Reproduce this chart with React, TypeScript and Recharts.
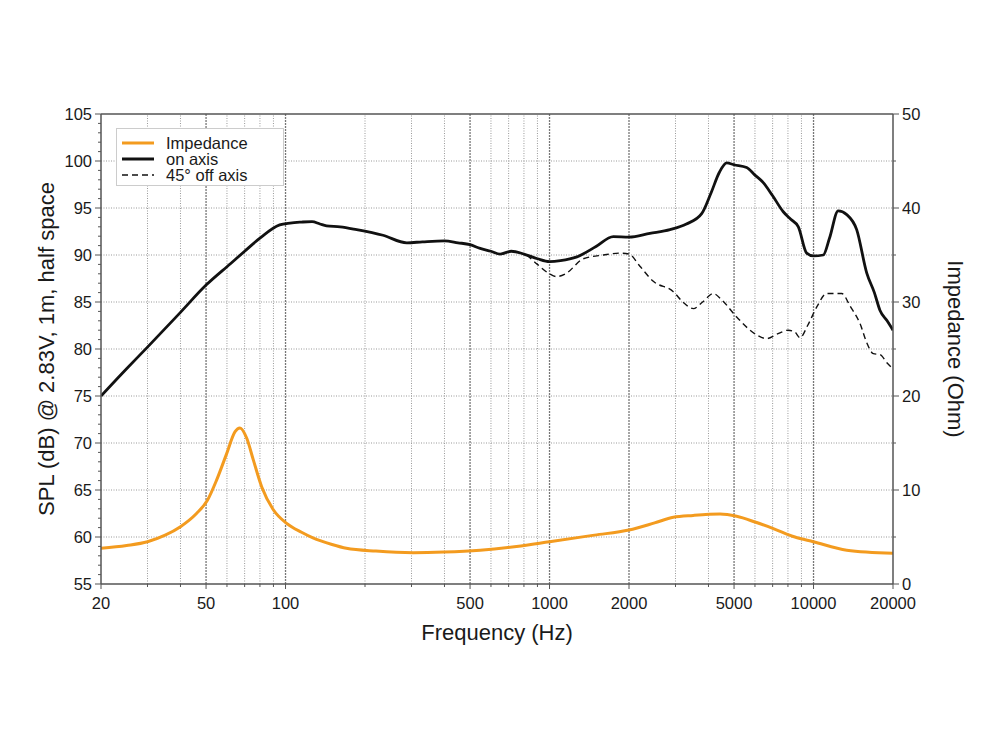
import React from "react";
import {
  ComposedChart,
  Line,
  XAxis,
  YAxis,
  ReferenceLine,
  Legend,
  Label,
} from "recharts";

// on-axis SPL response (Hz / dB)
const ON_AXIS_FREQ = [
  20, 25, 30, 40, 50, 62, 70, 80, 95, 104, 115, 126, 135, 143, 161, 186, 234,
  288, 330, 400, 450, 500, 546, 600, 650, 716, 800, 900, 1000, 1100, 1270, 1500,
  1744, 2000, 2400, 2860, 3300, 3770, 4090, 4400, 4690, 5000, 5580, 6000, 6450,
  7000, 7680, 8200, 8760, 9420, 10000, 10890, 11500, 12400, 13360, 14570, 15900,
  17000, 17860, 19000, 20000,
];
const ON_AXIS_SPL = [
  75.0, 77.9, 80.2, 83.9, 86.8, 89.1, 90.4, 91.8, 93.2, 93.4, 93.5, 93.55, 93.3,
  93.1, 93.0, 92.7, 92.1, 91.3, 91.4, 91.5, 91.3, 91.1, 90.7, 90.4, 90.1, 90.4,
  90.1, 89.6, 89.3, 89.4, 89.8, 90.9, 91.95, 91.9, 92.3, 92.7, 93.3, 94.4, 96.6,
  98.8, 99.8, 99.6, 99.3, 98.5, 97.7, 96.3, 94.6, 93.8, 93.0, 90.2, 89.9, 90.0,
  91.8, 94.7, 94.3, 92.7, 88.1, 86.0, 84.1, 83.0, 82.0,
];

// 45 degree off-axis response, splits from on-axis around 800 Hz
const OFF_AXIS_FREQ = [
  820, 900, 1000, 1064, 1150, 1343, 1600, 1849, 2000, 2200, 2472, 2944, 3200,
  3505, 3800, 4170, 4500, 5115, 6090, 6650, 7300, 8020, 8500, 8890, 9500, 10300,
  11220, 12790, 13800, 15000, 16000, 16840, 17860, 19000, 20000,
];
const OFF_AXIS_SPL = [
  90.0, 89.0, 88.0, 87.7, 88.0, 89.6, 90.0, 90.2, 90.1, 88.8, 87.2, 86.1, 85.0,
  84.3, 85.0, 85.9, 85.2, 83.4, 81.5, 81.1, 81.6, 82.0, 81.8, 81.2, 82.5, 84.5,
  85.9, 85.9, 84.5, 82.7, 80.5, 79.5, 79.4, 78.5, 77.9,
];

// impedance magnitude (Hz / Ohm)
const IMP_FREQ = [
  20, 25, 30, 35, 40, 46, 50.6, 54.9, 59.9, 64.4, 67.2, 71.3, 75.5, 81.2, 89.9,
  101, 115, 127, 150, 170, 220, 305, 400, 546, 750, 1000, 1480, 2000, 2500,
  2944, 3500, 4425, 5115, 6000, 7045, 8500, 9980, 13360, 20000,
];
const IMP_OHM = [
  3.8, 4.1, 4.5, 5.2, 6.1, 7.5, 8.9, 11.1, 13.9, 16.2, 16.6, 15.5, 13.2, 10.35,
  7.9, 6.45, 5.5, 4.9, 4.2, 3.8, 3.5, 3.33, 3.4, 3.6, 4.0, 4.5, 5.2, 5.74, 6.5,
  7.1, 7.3, 7.45, 7.2, 6.6, 5.9, 5.0, 4.5, 3.6, 3.27,
];

const FREQ_TICKS = [
  20, 30, 40, 50, 60, 70, 80, 90, 100, 200, 300, 400, 500, 600, 700, 800, 900,
  1000, 2000, 3000, 4000, 5000, 6000, 7000, 8000, 9000, 10000, 20000,
];
const FREQ_LABELS = [20, 50, 100, 500, 1000, 2000, 5000, 10000, 20000];
const SPL_TICKS = Array.from({ length: 51 }, (_, i) => 55 + i);
const SPL_GRID = [60, 65, 70, 75, 80, 85, 90, 95, 100];
const OHM_TICKS = [0, 5, 10, 15, 20, 25, 30, 35, 40, 45, 50];

const SERIES_NAMES = ["Impedance", "on axis", "45° off axis"];

const toPoints = (xs: number[], ys: number[]) =>
  xs.map((f, i) => ({ f, v: ys[i] }));

const onAxis = toPoints(ON_AXIS_FREQ, ON_AXIS_SPL);
const offAxis = toPoints(OFF_AXIS_FREQ, OFF_AXIS_SPL);
const impedance = toPoints(IMP_FREQ, IMP_OHM);

const FONT = '"Liberation Sans", Arial, Helvetica, sans-serif';
const AXIS = "#555";
const TEXT = "#1a1a1a";
const ORANGE = "#F39B1F";

function SplTick({ x, y, payload }: any) {
  const v = payload.value;
  const major = v % 5 === 0;
  return (
    <g>
      <line x1={x - (major ? 6 : 3)} x2={x} y1={y} y2={y} stroke={AXIS} />
      {major && (
        <text
          x={x - 9}
          y={y}
          textAnchor="end"
          dominantBaseline="central"
          fontSize={16.5}
          fontFamily={FONT}
          fill={TEXT}
        >
          {v}
        </text>
      )}
    </g>
  );
}

function OhmTick({ x, y, payload }: any) {
  const v = payload.value;
  const major = v % 10 === 0;
  return (
    <g>
      <line x1={x} x2={x + (major ? 6 : 3)} y1={y} y2={y} stroke={AXIS} />
      {major && (
        <text
          x={x + 9}
          y={y}
          textAnchor="start"
          dominantBaseline="central"
          fontSize={16.5}
          fontFamily={FONT}
          fill={TEXT}
        >
          {v}
        </text>
      )}
    </g>
  );
}

function FreqTick({ x, y, payload }: any) {
  const v = payload.value;
  const labelled = FREQ_LABELS.includes(v);
  return (
    <g>
      <line x1={x} x2={x} y1={y} y2={y + (labelled ? 5 : 3)} stroke={AXIS} />
      {labelled && (
        <text
          x={x}
          y={y + 19}
          textAnchor="middle"
          dominantBaseline="central"
          fontSize={16.5}
          fontFamily={FONT}
          fill={TEXT}
        >
          {v}
        </text>
      )}
    </g>
  );
}

function LegendBox({ payload }: any) {
  const items = [...(payload || [])].sort(
    (a: any, b: any) =>
      SERIES_NAMES.indexOf(a.value) - SERIES_NAMES.indexOf(b.value)
  );
  return (
    <div
      style={{
        width: 168,
        height: 58,
        boxSizing: "border-box",
        border: "1px solid #ccc",
        background: "#fff",
        padding: "6px 0 0 5px",
        fontFamily: FONT,
        fontSize: 16.5,
        color: TEXT,
      }}
    >
      {items.map((item: any) => (
        <div
          key={item.value}
          style={{ display: "flex", alignItems: "center", height: 16 }}
        >
          <svg width={32} height={4} style={{ marginRight: 12 }}>
            <line
              x1={0}
              x2={32}
              y1={2}
              y2={2}
              stroke={item.color}
              strokeWidth={item.payload?.strokeDasharray ? 1.6 : 3}
              strokeDasharray={item.payload?.strokeDasharray}
            />
          </svg>
          <span>{item.value}</span>
        </div>
      ))}
    </div>
  );
}

export default function App() {
  return (
    <div
      style={{
        position: "absolute",
        left: 0,
        top: 0,
        width: 1000,
        height: 750,
        background: "#fff",
      }}
    >
      <ComposedChart
        width={1000}
        height={750}
        margin={{ top: 114, right: 47, bottom: 136, left: 41 }}
      >
        <XAxis
          dataKey="f"
          type="number"
          scale="log"
          domain={[20, 20000]}
          allowDataOverflow
          ticks={FREQ_TICKS}
          interval={0}
          tick={<FreqTick />}
          tickLine={false}
          tickSize={0}
          tickMargin={0}
          height={30}
          axisLine={{ stroke: AXIS, strokeWidth: 1.5 }}
        >
          <Label
            content={({ viewBox }: any) => (
              <text
                x={viewBox.x + viewBox.width / 2}
                y={viewBox.y + 48}
                textAnchor="middle"
                dominantBaseline="central"
                fontSize={22}
                fontFamily={FONT}
                fill={TEXT}
              >
                Frequency (Hz)
              </text>
            )}
          />
        </XAxis>
        <YAxis
          yAxisId="spl"
          type="number"
          domain={[55, 105]}
          ticks={SPL_TICKS}
          interval={0}
          tick={<SplTick />}
          tickLine={false}
          tickSize={0}
          tickMargin={0}
          width={60}
          axisLine={{ stroke: AXIS, strokeWidth: 1.5 }}
        >
          <Label
            content={({ viewBox }: any) => {
              const cx = viewBox.x + 5;
              const cy = viewBox.y + viewBox.height / 2;
              return (
                <text
                  x={cx}
                  y={cy}
                  transform={`rotate(-90 ${cx} ${cy})`}
                  textAnchor="middle"
                  dominantBaseline="central"
                  fontSize={22}
                  fontFamily={FONT}
                  fill={TEXT}
                >
                  SPL (dB) @ 2.83V, 1m, half space
                </text>
              );
            }}
          />
        </YAxis>
        <YAxis
          yAxisId="ohm"
          orientation="right"
          type="number"
          domain={[0, 50]}
          ticks={OHM_TICKS}
          interval={0}
          tick={<OhmTick />}
          tickLine={false}
          tickSize={0}
          tickMargin={0}
          width={60}
          axisLine={{ stroke: AXIS, strokeWidth: 1.5 }}
        >
          <Label
            content={({ viewBox }: any) => {
              const cx = viewBox.x + 62;
              const cy = viewBox.y + viewBox.height / 2;
              return (
                <text
                  x={cx}
                  y={cy}
                  transform={`rotate(90 ${cx} ${cy})`}
                  textAnchor="middle"
                  dominantBaseline="central"
                  fontSize={22}
                  fontFamily={FONT}
                  fill={TEXT}
                >
                  Impedance (Ohm)
                </text>
              );
            }}
          />
        </YAxis>

        {FREQ_TICKS.filter((f) => f > 20 && f < 20000).map((f) => {
          const major = FREQ_LABELS.includes(f);
          return (
            <ReferenceLine
              key={`vx-${f}`}
              x={f}
              yAxisId="spl"
              stroke={major ? "#777" : "#999"}
              strokeWidth={major ? 1.3 : 1}
              strokeDasharray={major ? "2 1" : "1 1.5"}
            />
          );
        })}
        {SPL_GRID.map((v) => (
          <ReferenceLine
            key={`hy-${v}`}
            y={v}
            yAxisId="spl"
            stroke="#999"
            strokeDasharray="1 1.5"
          />
        ))}
        <ReferenceLine y={105} yAxisId="spl" stroke={AXIS} strokeWidth={1.5} />

        <Line
          name="Impedance"
          data={impedance}
          dataKey="v"
          yAxisId="ohm"
          type="monotone"
          stroke={ORANGE}
          strokeWidth={3}
          dot={false}
          activeDot={false}
          isAnimationActive={false}
        />
        <Line
          name="45° off axis"
          data={offAxis}
          dataKey="v"
          yAxisId="spl"
          type="monotone"
          stroke="#111"
          strokeWidth={1.4}
          strokeDasharray="6 4"
          dot={false}
          activeDot={false}
          isAnimationActive={false}
        />
        <Line
          name="on axis"
          data={onAxis}
          dataKey="v"
          yAxisId="spl"
          type="monotone"
          stroke="#111"
          strokeWidth={2.8}
          dot={false}
          activeDot={false}
          isAnimationActive={false}
        />
        <Legend
          layout="vertical"
          align="center"
          verticalAlign="middle"
          content={<LegendBox />}
          wrapperStyle={{ left: 116, top: 128, width: 168, height: 58 }}
        />
      </ComposedChart>
    </div>
  );
}
